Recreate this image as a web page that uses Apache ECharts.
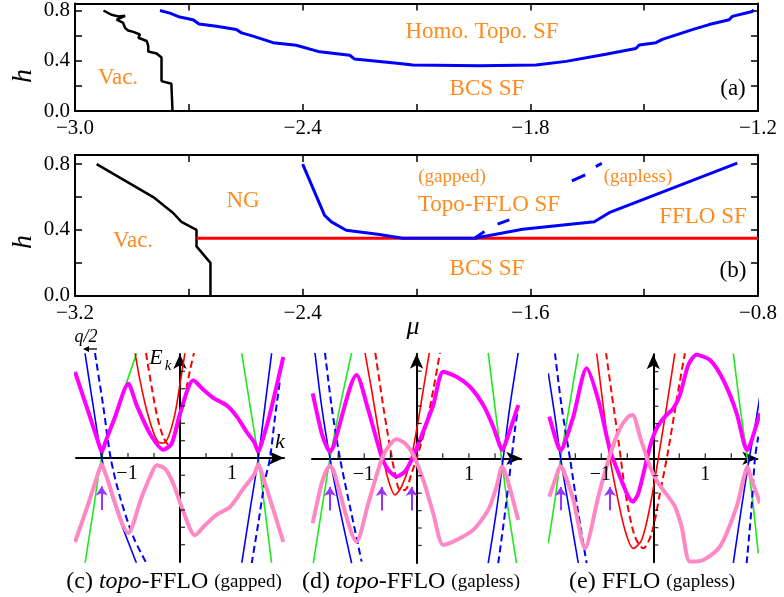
<!DOCTYPE html>
<html><head><meta charset="utf-8">
<script src="https://cdn.jsdelivr.net/npm/echarts@6/dist/echarts.min.js"></script>
<style>html,body{margin:0;padding:0;background:#fff}#c{width:784px;height:597px}</style>
</head><body><div id="c"></div>
<script>
// ---------- Panel (a) data: [mu, h] ----------
const aXTicks = [-3.0, -2.4, -1.8, -1.2];
const aYTicks = [0.0, 0.4, 0.8];
const aVac = [[-2.925,0.800],[-2.904,0.766],[-2.886,0.753],[-2.868,0.758],[-2.890,0.727],[-2.873,0.701],[-2.868,0.661],[-2.860,0.641],[-2.846,0.630],[-2.829,0.609],[-2.833,0.583],[-2.811,0.557],[-2.807,0.518],[-2.807,0.473],[-2.785,0.458],[-2.772,0.426],[-2.772,0.238],[-2.746,0.217],[-2.743,0.0]];
const aTopo = [[-2.776,0.800],[-2.750,0.779],[-2.724,0.748],[-2.689,0.727],[-2.673,0.693],[-2.627,0.675],[-2.575,0.648],[-2.561,0.622],[-2.531,0.596],[-2.478,0.544],[-2.417,0.523],[-2.355,0.471],[-2.276,0.444],[-2.263,0.413],[-2.145,0.379],[-2.110,0.366],[-1.934,0.361],[-1.785,0.366],[-1.706,0.395],[-1.601,0.452],[-1.522,0.497],[-1.513,0.525],[-1.469,0.544],[-1.452,0.570],[-1.373,0.648],[-1.329,0.688],[-1.276,0.727],[-1.268,0.753],[-1.215,0.792],[-1.211,0.805]];

// ---------- Panel (b) data: [mu, h] ----------
const bXTicks = [-3.2, -2.4, -1.6, -0.8];
const bVac = [[-3.124,0.80],[-2.925,0.60],[-2.855,0.503],[-2.826,0.449],[-2.773,0.40],[-2.773,0.30],[-2.724,0.20],[-2.724,0.0]];
const bBCS = [[-2.773,0.35],[-0.8,0.35]];
const bTopo = [[-2.4,0.8],[-2.323,0.489],[-2.299,0.449],[-2.247,0.398],[-2.13,0.372],[-2.048,0.35],[-1.796,0.35],[-1.627,0.404],[-1.375,0.45],[-1.323,0.505],[-0.873,0.806]];
const bGapless = [[-1.796,0.35],[-1.761,0.39],null,[-1.715,0.435],[-1.674,0.461],null,[-1.454,0.698],[-1.407,0.735],null,[-1.370,0.785],[-1.349,0.806]];

// ---------- band panels: tick positions ----------
const bandKLabels = [-1, 1];
const bandKTicks = [-1.5, -1, -0.5, 0.5, 1, 1.5];
const bandETicks = [-1.667, -1.333, -1, -0.667, -0.333, 0.333, 0.667, 1, 1.333, 1.667];

// ---------- Panel (c) data: [k, E] ----------
const cMag = [[-2.019,1.654],[-1.763,0.885],[-1.58,0.33],[-1.506,0.12],[-1.43,0.32],[-1.25,0.788],[-0.994,1.429],[-0.833,1.013],[-0.577,0.468],[-0.321,0.160],[-0.160,0.276],[0,0.853],[0.256,1.494],[0.449,1.314],[0.641,1.154],[0.897,1.013],[1.090,0.801],[1.282,0.5],[1.43,0.3],[1.506,0.12],[1.58,0.32],[1.731,0.853],[1.987,1.942]];
const cPink = [[-2.019,-1.615],[-1.763,-0.878],[-1.58,-0.31],[-1.506,-0.12],[-1.43,-0.31],[-0.994,-1.442],[-0.737,-0.75],[-0.577,-0.365],[-0.449,-0.141],[-0.288,-0.205],[-0.128,-0.494],[0.032,-0.942],[0.288,-1.487],[0.449,-1.327],[0.705,-1.090],[0.962,-0.942],[1.218,-0.590],[1.43,-0.31],[1.506,-0.12],[1.58,-0.31],[1.987,-1.615]];
const cGreenL = [[-1.827,-2.032],[-1.667,-1.006],[-1.506,0],[-1.282,0.724],[-1.090,1.269],[-0.833,2.019]];
const cGreenR = [[1.186,2.019],[1.346,1.013],[1.506,0],[1.635,-1.006],[1.763,-2.032]];
const cBlueL = [[-1.827,2.019],[-1.667,0.981],[-1.506,0],[-1.346,-0.622],[-1.154,-1.199],[-0.833,-2.032]];
const cBlueR = [[1.186,-2.032],[1.346,-1.006],[1.506,0],[1.635,1.013],[1.763,2.019]];
const cBlueDL = [[-1.635,2.019],[-1.474,0.981],[-1.333,0],[-1.154,-0.75],[-0.897,-1.519],[-0.641,-2.032]];
const cBlueDR = [[1.378,-2.032],[1.506,-1.25],[1.635,-0.429],[1.731,0],[1.827,0.788],[1.923,1.494]];
const cRed = [[-0.865,2.019],[-0.769,1.494],[-0.641,0.917],[-0.513,0.5],[-0.417,0.308],[-0.321,0.288],[-0.224,0.404],[-0.096,0.853],[0,1.429],[0.096,2.019]];
const cRedD = [[-0.654,2.019],[-0.545,1.365],[-0.436,0.788],[-0.321,0.404],[-0.224,0.263],[-0.096,0.436],[0.064,1.045],[0.192,1.686],[0.269,2.019]];
const cArrows = [-1.506];

// ---------- Panel (d) data ----------
const dMag = [[-1.987,1.242],[-1.815,0.478],[-1.720,0.223],[-1.656,0.127],[-1.592,0.223],[-1.146,1.592],[-0.924,0.924],[-0.669,0.032],[-0.541,-0.223],[-0.382,-0.350],[-0.223,-0.255],[-0.096,-0.032],[0.064,0.350],[0.318,1.019],[0.510,1.656],[0.764,1.561],[1.019,1.369],[1.274,1.019],[1.465,0.605],[1.575,0.287],[1.635,0.159],[1.70,0.287],[1.943,1.019]];
const dPink = [[-1.987,-1.242],[-1.815,-0.478],[-1.720,-0.223],[-1.656,-0.146],[-1.592,-0.223],[-1.146,-1.592],[-0.924,-0.860],[-0.669,-0.019],[-0.541,0.223],[-0.382,0.363],[-0.223,0.287],[-0.064,0.064],[0.127,-0.414],[0.318,-1.051],[0.510,-1.656],[0.764,-1.561],[1.083,-1.369],[1.369,-0.987],[1.529,-0.541],[1.635,-0.16],[1.72,-0.350],[1.943,-1.178]];
const dGreenL = [[-1.975,-2.006],[-1.815,-0.987],[-1.656,0],[-1.465,0.987],[-1.242,2.019]];
const dGreenR = [[1.369,2.019],[1.497,0.987],[1.624,0],[1.752,-0.987],[1.911,-2.006]];
const dBlueL = [[-1.943,2.019],[-1.815,0.987],[-1.656,0],[-1.465,-0.987],[-1.242,-2.006]];
const dBlueR = [[1.369,-2.006],[1.529,-0.987],[1.656,0],[1.783,0.987],[1.943,2.019]];
const dBlueDL = [[-1.752,2.019],[-1.624,0.987],[-1.465,0],[-1.274,-0.924],[-1.051,-1.975]];
const dBlueDR = [[1.561,-2.006],[1.656,-1.306],[1.752,-0.541],[1.815,0],[1.879,0.541],[1.943,0.987]];
const dRed = [[-0.987,2.019],[-0.860,1.306],[-0.732,0.541],[-0.637,0],[-0.541,-0.414],[-0.414,-0.701],[-0.287,-0.541],[-0.127,-0.096],[0,0.541],[0.127,1.306],[0.242,2.019]];
const dRedD = [[-0.79,2.02],[-0.637,0.987],[-0.510,0.223],[-0.414,-0.287],[-0.318,-0.605],[-0.223,-0.605],[-0.096,-0.287],[0.032,0.096],[0.191,0.669],[0.318,1.306],[0.446,2.019]];
const dArrows = [-1.656, -0.669, -0.096];

// ---------- Panel (e) data ----------
const eMag = [[-2.0,0.801],[-1.891,0.417],[-1.827,0.224],[-1.782,0.160],[-1.731,0.224],[-1.538,0.801],[-1.282,1.731],[-1.058,1.122],[-0.833,0.160],[-0.641,-0.353],[-0.481,-0.737],[-0.397,-0.833],[-0.288,-0.673],[-0.064,0.224],[0.064,0.577],[0.224,0.801],[0.385,0.962],[0.513,1.218],[0.673,1.795],[0.833,1.99],[1.090,1.891],[1.346,1.506],[1.603,0.865],[1.744,0.288],[1.808,0.160],[1.872,0.288],[2.051,0.865]];
const ePink = [[-2.0,-0.737],[-1.891,-0.417],[-1.827,-0.224],[-1.782,-0.160],[-1.731,-0.224],[-1.538,-0.801],[-1.314,-1.731],[-1.058,-0.737],[-0.833,0.064],[-0.641,0.577],[-0.481,0.801],[-0.397,0.833],[-0.256,0.417],[-0.064,-0.160],[0.096,-0.481],[0.288,-0.737],[0.417,-0.929],[0.545,-1.314],[0.705,-1.987],[0.962,-1.955],[1.282,-1.699],[1.603,-0.929],[1.744,-0.353],[1.808,-0.160],[1.872,-0.353],[2.051,-0.865]];
const eGreenL = [[-2.019,-1.635],[-1.891,-0.801],[-1.782,0],[-1.615,0.994],[-1.442,2.032]];
const eGreenR = [[1.538,2.032],[1.667,0.994],[1.808,0],[1.923,-0.929],[2.019,-1.827]];
const eBlueL = [[-2.019,1.635],[-1.891,0.801],[-1.782,0],[-1.615,-0.994],[-1.442,-2.019]];
const eBlueR = [[1.538,-2.019],[1.699,-0.929],[1.846,0],[1.987,0.801],[2.05,1.2]];
const eBlueDL = [[-1.891,2.019],[-1.763,0.994],[-1.603,0],[-1.442,-1.058],[-1.282,-2.019]];
const eBlueDR = [[1.795,-2.019],[1.891,-0.929],[1.955,0],[2.019,0.417]];
const eRed = [[-1.090,2.032],[-0.962,0.994],[-0.833,0],[-0.705,-0.673],[-0.545,-1.378],[-0.385,-1.731],[-0.224,-1.571],[-0.064,-0.929],[0.096,0],[0.256,0.994],[0.417,2.032]];
const eRedD = [[-0.910,2.032],[-0.801,1.25],[-0.673,0.353],[-0.513,-0.801],[-0.353,-1.506],[-0.192,-1.731],[-0.032,-1.442],[0.128,-0.673],[0.288,0.160],[0.449,1.122],[0.609,2.032]];
const eArrows = [-1.782, -0.833];
const arrowE = [-1.0, -0.55];

// ---------- styling ----------
const SERIF = '"Liberation Serif","DejaVu Serif",serif';
const ORANGE = '#FF8A1E';
const GREEN = '#1EE81E', BLUE = '#0000FF', RED = '#FF0000', MAG = '#FF00FF', PINK = '#FF88C4', PURPLE = '#9A33FF';

const chart = echarts.init(document.getElementById('c'), null, {renderer: 'canvas'});

const fmtMu = v => (v < -1e-9 ? '\u2212' : '') + Math.abs(v).toFixed(1);
function onTick(list) { return v => list.some(t => Math.abs(t - v) < 1e-6) ? fmtMu(v) : ''; }

const xAxes = [], yAxes = [], grids = [];
function framePanel(gi, box, xmin, xmax, xint, xticks) {
  grids.push(box);
  const common = {type: 'value', gridIndex: gi, splitLine: {show: false},
    axisLine: {show: true, onZero: false, lineStyle: {color: '#000', width: 2}},
    axisTick: {show: true, inside: true, length: 7, lineStyle: {color: '#000', width: 1.5}},
    minorTick: {show: true, splitNumber: 2, length: 7, lineStyle: {color: '#000', width: 1.5}}};
  xAxes.push(Object.assign({}, common, {min: xmin, max: xmax, interval: xint, position: 'bottom',
    axisLabel: {formatter: onTick(xticks), fontFamily: SERIF, fontSize: 21, color: '#000', margin: 7}}));
  xAxes.push(Object.assign({}, common, {min: xmin, max: xmax, interval: xint, position: 'top', axisLabel: {show: false}}));
  yAxes.push(Object.assign({}, common, {min: 0, max: 0.856, interval: 0.4, position: 'left',
    axisLabel: {formatter: onTick(aYTicks), fontFamily: SERIF, fontSize: 21, color: '#000', margin: 5}}));
  yAxes.push(Object.assign({}, common, {min: 0, max: 0.856, interval: 0.4, position: 'right', axisLabel: {show: false}}));
}
framePanel(0, {left: 75, top: 2, width: 683, height: 109}, -3.0, -1.2, 0.6, aXTicks);
framePanel(1, {left: 75, top: 155, width: 683, height: 140.7}, -3.2, -0.8, 0.8, bXTicks);

function bandPanel(gi, box) {
  grids.push(box);
  const ax = {type: 'value', gridIndex: gi, min: -2, max: 2, interval: 0.5, splitLine: {show: false},
    axisLine: {show: true, onZero: true, symbol: ['none', 'arrow'], symbolSize: [10, 15], lineStyle: {color: '#000', width: 2}},
    axisTick: {show: false}, axisLabel: {show: false}};
  xAxes.push(ax);
  yAxes.push(Object.assign({}, ax));
}
bandPanel(2, {left: 76, top: 354, width: 208, height: 208});
bandPanel(3, {left: 312, top: 353.7, width: 209.2, height: 209.2});
bandPanel(4, {left: 549.3, top: 354.3, width: 208, height: 208});

const series = [];
function line(data, xi, yi, color, width, extra) {
  series.push(Object.assign({type: 'line', data: data, xAxisIndex: xi, yAxisIndex: yi, showSymbol: false, symbol: 'none',
    silent: true, connectNulls: false, lineStyle: {color: color, width: width}, z: 3}, extra || {}));
}
// (a)
line(aVac, 0, 0, '#000', 2.5);
line(aTopo, 0, 0, BLUE, 3);
// (b)
line(bVac, 2, 2, '#000', 2.5);
line(bBCS, 2, 2, RED, 3);
line(bTopo, 2, 2, BLUE, 3);
line(bGapless, 2, 2, BLUE, 3);

function bands(xi, set, arrows) {
  const thin = 1.6;
  // axis tick marks (small rects at tick positions on the axes)
  series.push({type: 'scatter', xAxisIndex: xi, yAxisIndex: xi, silent: true, z: 6, symbol: 'rect',
    symbolSize: [1.3, 5], symbolOffset: [0, -2.5], itemStyle: {color: '#000'}, data: bandKTicks.map(k => [k, 0])});
  series.push({type: 'scatter', xAxisIndex: xi, yAxisIndex: xi, silent: true, z: 6, symbol: 'rect',
    symbolSize: [5, 1.3], symbolOffset: [2.5, 0], itemStyle: {color: '#000'}, data: bandETicks.map(e => [0, e])});
  line(set.gL, xi, xi, GREEN, thin, {smooth: 0.3});
  line(set.gR, xi, xi, GREEN, thin, {smooth: 0.3});
  line(set.bL, xi, xi, BLUE, thin, {smooth: 0.3});
  line(set.bR, xi, xi, BLUE, thin, {smooth: 0.3});
  line(set.bdL, xi, xi, BLUE, 2, {smooth: 0.3, lineStyle: {color: BLUE, width: 2, type: [7, 4]}});
  line(set.bdR, xi, xi, BLUE, 2, {smooth: 0.3, lineStyle: {color: BLUE, width: 2, type: [7, 4]}});
  line(set.r, xi, xi, RED, thin, {smooth: 0.3});
  line(set.rd, xi, xi, RED, 2, {smooth: 0.3, lineStyle: {color: RED, width: 2, type: [7, 4]}});
  line(set.mag, xi, xi, MAG, 4, {smooth: 0.25, z: 4});
  line(set.pink, xi, xi, PINK, 4, {smooth: 0.25, z: 4,
    markLine: {silent: true, symbol: ['none', 'arrow'], symbolSize: 9, animation: false,
      lineStyle: {color: PURPLE, width: 2, type: 'solid'}, label: {show: false},
      data: arrows.map(k => [{coord: [k, arrowE[0]]}, {coord: [k, arrowE[1]]}])}});
}
bands(4, {gL: cGreenL, gR: cGreenR, bL: cBlueL, bR: cBlueR, bdL: cBlueDL, bdR: cBlueDR, r: cRed, rd: cRedD, mag: cMag, pink: cPink}, cArrows);
bands(5, {gL: dGreenL, gR: dGreenR, bL: dBlueL, bR: dBlueR, bdL: dBlueDL, bdR: dBlueDR, r: dRed, rd: dRedD, mag: dMag, pink: dPink}, dArrows);
bands(6, {gL: eGreenL, gR: eGreenR, bL: eBlueL, bR: eBlueR, bdL: eBlueDL, bdR: eBlueDR, r: eRed, rd: eRedD, mag: eMag, pink: ePink}, eArrows);

chart.setOption({animation: false, backgroundColor: '#fff', grid: grids, xAxis: xAxes, yAxis: yAxes, series: series});

function txt(text, x, y, size, color, opts) {
  return Object.assign({type: 'text', x: x, y: y, silent: true, z: 10,
    style: Object.assign({text: text, fill: color || '#000', font: size + 'px ' + SERIF,
      align: 'center', verticalAlign: 'middle', textAlign: 'center', textVerticalAlign: 'middle'}, (opts && opts.style) || {})},
    (opts && opts.el) || {});
}
const graphics = [
  txt('Vac.', 118, 78, 23, ORANGE),
  txt('Homo. Topo. SF', 482, 32, 23, ORANGE),
  txt('BCS SF', 487, 89, 23, ORANGE),
  txt('(a)', 733, 89, 23, '#000'),
  txt('NG', 243, 201, 23, ORANGE),
  txt('Vac.', 133, 241, 23, ORANGE),
  txt('(gapped)', 452, 177, 19, ORANGE),
  txt('Topo-FFLO SF', 489, 205, 23, ORANGE),
  txt('(gapless)', 638, 177, 19, ORANGE),
  txt('FFLO SF', 703, 217, 23, ORANGE),
  txt('BCS SF', 487, 269, 23, ORANGE),
  txt('(b)', 733, 271, 23, '#000'),
  txt('h', 24, 76, 28, '#000', {style: {font: 'italic 28px ' + SERIF}, el: {rotation: Math.PI / 2}}),
  txt('h', 24, 242, 28, '#000', {style: {font: 'italic 28px ' + SERIF}, el: {rotation: Math.PI / 2}}),
  txt('\u03bc', 413, 327, 26, '#000', {style: {font: 'italic 26px ' + SERIF}}),
  txt('q/2', 86, 337, 18, '#000', {style: {font: 'italic 18px ' + SERIF}}),
  txt('E', 156, 358, 22, '#000', {style: {font: 'italic 22px ' + SERIF}}),
  txt('k', 168, 366, 15, '#000', {style: {font: 'italic 15px ' + SERIF}}),
  txt('k', 280, 442, 22, '#000', {style: {font: 'italic 22px ' + SERIF}}),
  {type: 'line', silent: true, z: 10, shape: {x1: 97, y1: 349, x2: 88, y2: 349}, style: {stroke: '#000', lineWidth: 1.3}},
  {type: 'polygon', silent: true, z: 10, shape: {points: [[83, 349], [89, 346], [89, 352]]}, style: {fill: '#000'}},
];
// k-axis tick labels placed at the data positions (axis crosses at E = 0)
[4, 5, 6].forEach(ai => {
  bandKLabels.forEach(k => {
    const p = chart.convertToPixel({xAxisIndex: ai, yAxisIndex: ai}, [k, 0]);
    graphics.push(txt(k < 0 ? '\u22121' : '1', p[0] - (k < 0 ? 1 : 0), p[1] + 16, 20, '#000'));
  });
});
function caption(x, pre, ital, post, small) {
  return {type: 'text', x: x, y: 582, silent: true, z: 10,
    style: {text: '{n|' + pre + '}' + (ital ? '{i|' + ital + '}' : '') + '{n|' + post + '}{s|' + small + '}',
      align: 'center', verticalAlign: 'middle', textAlign: 'center', textVerticalAlign: 'middle',
      rich: {n: {fontFamily: SERIF, fontSize: 24, fill: '#000', color: '#000'},
             i: {fontFamily: SERIF, fontSize: 24, fontStyle: 'italic', fill: '#000', color: '#000'},
             s: {fontFamily: SERIF, fontSize: 19, fill: '#000', color: '#000'}}}};
}
graphics.push(caption(174, '(c) ', 'topo', '-FFLO ', '(gapped)'));
graphics.push(caption(411, '(d) ', 'topo', '-FFLO ', '(gapless)'));
graphics.push(caption(652, '(e) ', '', 'FFLO ', '(gapless)'));

chart.setOption({graphic: graphics});
</script></body></html>
